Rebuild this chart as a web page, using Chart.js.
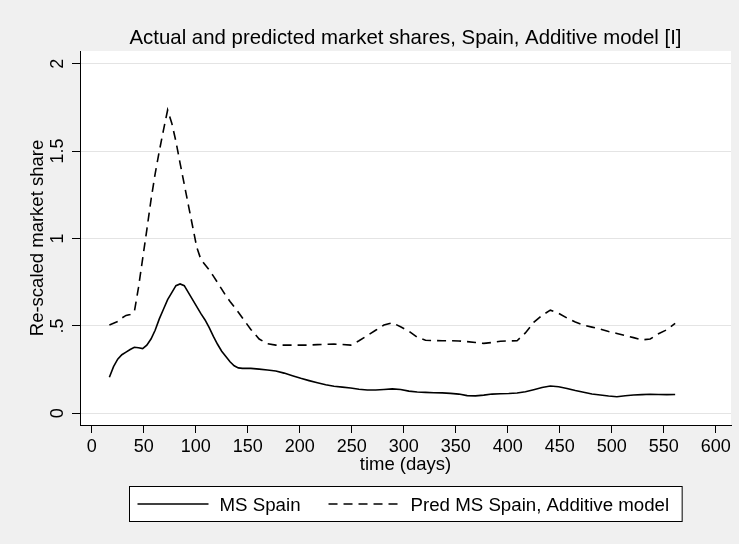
<!DOCTYPE html>
<html>
<head>
<meta charset="utf-8">
<title>Actual and predicted market shares, Spain</title>
<script src="https://cdn.jsdelivr.net/npm/chart.js@4.4.1/dist/chart.umd.min.js"></script>
<style>
  html, body { margin: 0; padding: 0; background: #f0f0f0; }
  canvas { display: block; }
</style>
</head>
<body>
<canvas id="chart" width="739" height="544"></canvas>
<script>
// Days since start of the series
const days = [
  17, 21, 25, 29, 33, 37, 41, 45, 49, 53, 57, 61, 65, 69, 73, 77, 81, 85, 89, 93,
  97, 101, 105, 109, 113, 117, 121, 125, 129, 133, 137, 141, 145,
  153, 161, 169, 177, 185, 193, 201, 209, 217, 225, 233, 241, 249, 257, 265, 273,
  281, 289, 297, 305, 313, 321, 329, 337, 345, 353, 361, 369, 377, 385, 393, 401,
  409, 417, 425, 433, 441, 449, 457, 465, 473, 481, 489, 497, 505, 513, 521, 529,
  537, 545, 553, 561
];

// Observed (re-scaled) market share
const msSpain = [
  0.206, 0.267, 0.310, 0.335, 0.350, 0.365, 0.378, 0.375, 0.370, 0.390, 0.425, 0.475, 0.540, 0.595, 0.650, 0.690, 0.730, 0.740, 0.730, 0.690,
  0.650, 0.610, 0.570, 0.534, 0.490, 0.440, 0.395, 0.355, 0.325, 0.295, 0.272, 0.260, 0.257,
  0.257, 0.253, 0.248, 0.242, 0.230, 0.215, 0.200, 0.187, 0.175, 0.163, 0.155, 0.150, 0.145, 0.138, 0.133, 0.133,
  0.136, 0.140, 0.136, 0.127, 0.122, 0.120, 0.118, 0.117, 0.114, 0.110, 0.101, 0.100, 0.104, 0.110, 0.112, 0.113,
  0.116, 0.123, 0.135, 0.148, 0.156, 0.152, 0.142, 0.130, 0.120, 0.110, 0.105, 0.099, 0.095, 0.100, 0.105, 0.107,
  0.109, 0.108, 0.107, 0.108
];

// Additive-model prediction
const predMsSpain = [
  0.505, 0.515, 0.525, 0.545, 0.560, 0.565, 0.580, 0.720, 0.885, 1.050, 1.220, 1.370, 1.500, 1.620, 1.735, 1.660, 1.555, 1.430, 1.310, 1.190,
  1.070, 0.950, 0.880, 0.850, 0.820, 0.785, 0.748, 0.710, 0.672, 0.640, 0.610, 0.578, 0.545,
  0.480, 0.425, 0.398, 0.390, 0.390, 0.390, 0.390, 0.390, 0.393, 0.395, 0.396, 0.394, 0.390, 0.415, 0.445, 0.475,
  0.505, 0.518, 0.495, 0.470, 0.435, 0.418, 0.416, 0.415, 0.415, 0.414, 0.410, 0.405, 0.400, 0.405, 0.412, 0.414,
  0.415, 0.460, 0.520, 0.560, 0.590, 0.572, 0.545, 0.522, 0.505, 0.493, 0.482, 0.468, 0.457, 0.445, 0.433, 0.420,
  0.425, 0.455, 0.478, 0.515
];

const xTickValues = [0, 50, 100, 150, 200, 250, 300, 350, 400, 450, 500, 550, 600];
const yTickValues = [0, 0.5, 1, 1.5, 2];
const yTickLabels = ['0', '.5', '1', '1.5', '2'];
const seriesLabels = ['MS Spain', 'Pred MS Spain, Additive model'];
const chartTitle = 'Actual and predicted market shares, Spain, Additive model [I]';
const xTitle = 'time (days)';
const yTitle = 'Re-scaled market share';

const FONT = '"Liberation Sans", Arial, Helvetica, sans-serif';

// Page background, white plot region, title and boxed legend
const framePlugin = {
  id: 'frame',
  beforeDraw(chart) {
    const { ctx, chartArea: a } = chart;
    ctx.save();
    ctx.fillStyle = '#f0f0f0';
    ctx.fillRect(0, 0, chart.width, chart.height);
    ctx.fillStyle = '#ffffff';
    ctx.fillRect(a.left, a.top, a.right - a.left, a.bottom - a.top);
    ctx.restore();
  },
  afterDraw(chart) {
    const { ctx, chartArea: a } = chart;
    const cx = (a.left + a.right) / 2;
    ctx.save();

    // title
    ctx.fillStyle = '#000';
    ctx.font = '20.4px ' + FONT;
    ctx.textAlign = 'center';
    ctx.textBaseline = 'alphabetic';
    ctx.fillText(chartTitle, cx, 44);

    // legend
    ctx.font = '18.7px ' + FONT;
    const ds = chart.data.datasets;
    const sample = 71, gapText = 11, gapItem = 28, padL = 8, padR = 13;
    const w = ds.map(d => ctx.measureText(d.label).width);
    const total = padL + sample + gapText + w[0] + gapItem + sample + gapText + w[1] + padR;
    const boxL = Math.round(cx - total / 2) + 0.5;
    const boxT = 486.5, boxH = 35;
    ctx.fillStyle = '#ffffff';
    ctx.fillRect(boxL, boxT, total, boxH);
    ctx.strokeStyle = '#000';
    ctx.lineWidth = 1;
    ctx.strokeRect(boxL, boxT, total, boxH);

    let x = boxL + padL;
    const lineY = 504;
    ds.forEach((d, i) => {
      ctx.beginPath();
      ctx.setLineDash(d.borderDash || []);
      ctx.lineWidth = d.borderWidth;
      ctx.strokeStyle = d.borderColor;
      ctx.moveTo(x, lineY);
      ctx.lineTo(x + sample, lineY);
      ctx.stroke();
      ctx.setLineDash([]);
      x += sample + gapText;
      ctx.fillStyle = '#000';
      ctx.textAlign = 'left';
      ctx.fillText(d.label, x, 511);
      x += w[i] + gapItem;
    });
    ctx.restore();
  }
};

const toPoints = (xs, ys) => xs.map((d, i) => ({ x: d, y: ys[i] }));

new Chart(document.getElementById('chart'), {
  type: 'line',
  data: {
    datasets: [
      {
        label: seriesLabels[0],
        data: toPoints(days, msSpain),
        borderColor: '#000',
        borderWidth: 1.6,
        pointRadius: 0,
        tension: 0,
        fill: false
      },
      {
        label: seriesLabels[1],
        data: toPoints(days, predMsSpain),
        borderColor: '#000',
        borderWidth: 1.6,
        borderDash: [9, 6],
        pointRadius: 0,
        tension: 0,
        fill: false
      }
    ]
  },
  options: {
    responsive: false,
    devicePixelRatio: 1,
    animation: false,
    layout: { padding: { top: 51, right: 8, left: 0, bottom: 0 } },
    plugins: {
      legend: { display: false },
      title: { display: false },
      tooltip: { enabled: false }
    },
    scales: {
      x: {
        type: 'linear',
        min: -11.25,
        max: 614.7,
        afterBuildTicks: s => { s.ticks = xTickValues.map(v => ({ value: v })); },
        afterFit: s => { s.height = 119; },
        ticks: {
          color: '#000',
          font: { family: FONT, size: 18, lineHeight: 1.2 },
          padding: 3,
          maxRotation: 0,
          minRotation: 0,
          autoSkip: false,
          callback: v => String(v)
        },
        grid: { drawOnChartArea: false, drawTicks: true, tickLength: 8, tickColor: '#000', tickWidth: 1 },
        border: { color: '#000', width: 1 },
        title: {
          display: true,
          text: xTitle,
          color: '#000',
          font: { family: FONT, size: 18.5, lineHeight: 1.2 },
          padding: { top: 0, bottom: 68 }
        }
      },
      y: {
        type: 'linear',
        min: -0.0669,
        max: 2.0727,
        afterBuildTicks: s => { s.ticks = yTickValues.map(v => ({ value: v })); },
        afterFit: s => { s.width = 80; },
        ticks: {
          color: '#000',
          font: { family: FONT, size: 18, lineHeight: 1.2 },
          minRotation: 90,
          maxRotation: 90,
          crossAlign: 'center',
          padding: 1,
          autoSkip: false,
          callback: v => yTickLabels[yTickValues.indexOf(v)]
        },
        grid: { color: '#e4e4e4', lineWidth: 1, tickLength: 8, tickColor: '#000', tickWidth: 1 },
        border: { color: '#000', width: 1 },
        title: {
          display: true,
          text: yTitle,
          color: '#000',
          font: { family: FONT, size: 18.5, lineHeight: 1.2 },
          padding: { top: 27, bottom: 0 }
        }
      }
    }
  },
  plugins: [framePlugin]
});
</script>
</body>
</html>
